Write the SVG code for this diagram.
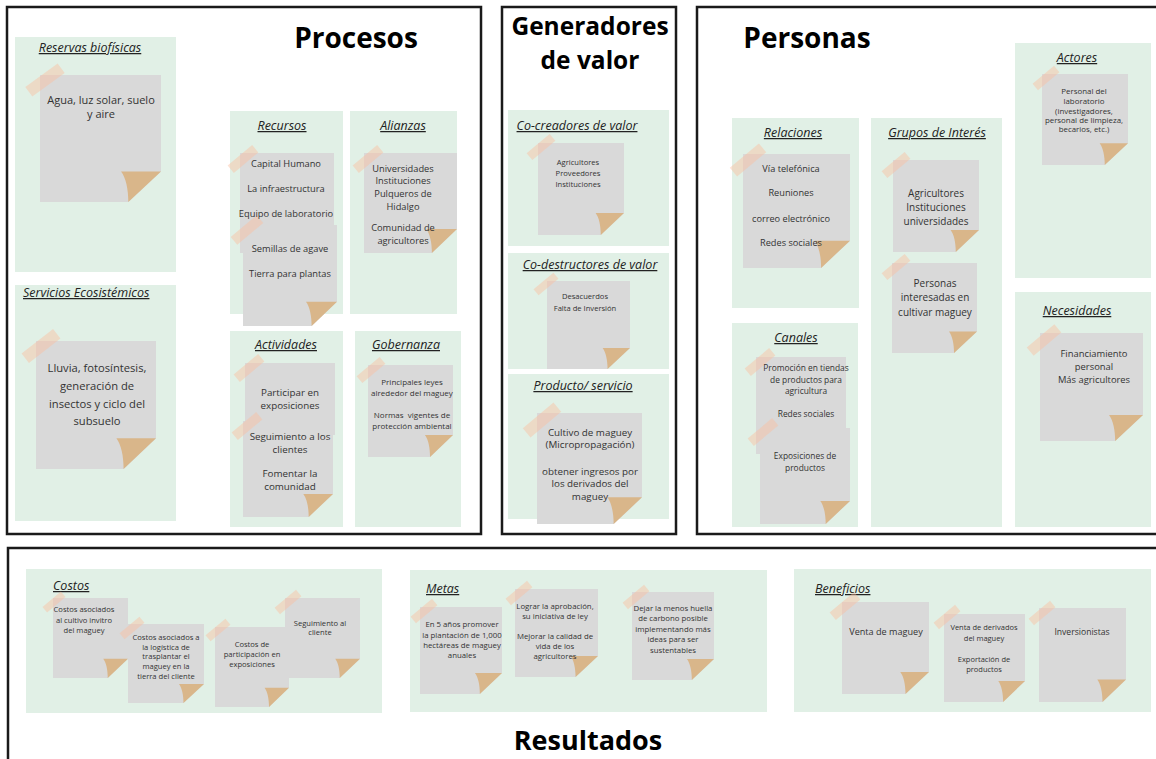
<svg xmlns="http://www.w3.org/2000/svg" xmlns:xlink="http://www.w3.org/1999/xlink" width="1156" height="759" viewBox="0 0 1156 759">
<style>
.frame{fill:none;stroke:#1a1a1a;stroke-width:2.5}
.panel{fill:#e1f0e6}
.title{font-family:"Open Sans","Liberation Sans",sans-serif;font-weight:700;fill:#000;text-anchor:middle}
.h{font-family:"Open Sans","Liberation Sans",sans-serif;font-style:italic;font-size:12.5px;text-decoration:underline;fill:#222}
.c{text-anchor:middle}
.n{font-family:"Open Sans","Liberation Sans",sans-serif;fill:#333;text-anchor:middle}
.tape{fill:#fbbf9f;opacity:.45}
.plain{fill:#d9d9d9}
</style>
<defs>
<symbol id="note" viewBox="0 0 100 100" preserveAspectRatio="none">
<path fill="#d9d9d9" d="M0 0H100V76L73 100H0Z"/>
<path fill="#d9b68a" d="M67 76H100L73 100C73 90 71 81 67 76Z"/>
</symbol>
<rect id="tape" class="tape" x="-20" y="-6" width="40" height="12"/>
</defs>
<rect width="1156" height="759" fill="#fff"/>

<g id="frames">
<rect class="frame" x="7" y="7" width="474" height="527"/>
<rect class="frame" x="502" y="7" width="174" height="527"/>
<rect class="frame" x="697" y="7" width="470" height="527"/>
<rect class="frame" x="8" y="548" width="1160" height="220"/>
<text class="title" x="356" y="48" font-size="28">Procesos</text>
<text class="title" x="590" y="35" font-size="24.5">Generadores</text>
<text class="title" x="590" y="69" font-size="24.5">de valor</text>
<text class="title" x="807" y="48" font-size="28">Personas</text>
<text class="title" x="588" y="750" font-size="27">Resultados</text>
</g>

<g id="reservas">
<rect class="panel" x="15" y="37" width="161" height="235"/>
<text class="h c" x="90" y="52">Reservas biofísicas</text>
<use href="#note" x="40" y="75" width="121" height="127"/>
<use href="#tape" transform="translate(45,80) rotate(-36)"/>
<text class="n" font-size="11"><tspan x="101" y="104">Agua, luz solar, suelo</tspan><tspan x="101" y="118">y aire</tspan></text>
</g>

<g id="servicios">
<rect class="panel" x="15" y="285" width="161" height="236"/>
<text class="h" x="23" y="297">Servicios Ecosistémicos </text>
<use href="#note" x="36" y="341" width="120" height="128"/>
<use href="#tape" transform="translate(41,346) rotate(-38)"/>
<text class="n" font-size="11.2"><tspan x="97" y="372">Lluvia, fotosíntesis,</tspan><tspan x="97" y="390">generación de</tspan><tspan x="97" y="408">insectos y ciclo del</tspan><tspan x="97" y="425">subsuelo</tspan></text>
</g>

<g id="recursos">
<rect class="panel" x="230" y="111" width="113" height="203"/>
<text class="h c" x="282" y="130">Recursos</text>
<rect class="plain" x="240" y="153" width="94" height="100"/>
<use href="#tape" transform="translate(243,159) rotate(-40) scale(0.8)"/>
<use href="#note" x="243" y="225" width="94" height="101"/>
<use href="#tape" transform="translate(247,230) rotate(-40) scale(0.85)"/>
<text class="n" font-size="9.3"><tspan x="286" y="167">Capital Humano</tspan><tspan x="286" y="192">La infraestructura</tspan><tspan x="286" y="217">Equipo de laboratorio</tspan><tspan x="290" y="252">Semillas de agave</tspan><tspan x="290" y="277">Tierra para plantas</tspan></text>
</g>

<g id="alianzas">
<rect class="panel" x="350" y="111" width="107" height="203"/>
<text class="h c" x="403" y="130">Alianzas</text>
<use href="#note" x="364" y="153" width="93" height="100"/>
<use href="#tape" transform="translate(368,159) rotate(-40) scale(0.8)"/>
<text class="n" font-size="9.3"><tspan x="403" y="172">Universidades</tspan><tspan x="403" y="184">Instituciones</tspan><tspan x="403" y="197">Pulqueros de</tspan><tspan x="403" y="210">Hidalgo</tspan><tspan x="403" y="231">Comunidad de</tspan><tspan x="403" y="244">agricultores</tspan></text>
</g>

<g id="actividades">
<rect class="panel" x="230" y="331" width="113" height="196"/>
<text class="h c" x="286" y="349">Actividades </text>
<rect class="plain" x="245" y="363" width="90" height="72"/>
<use href="#tape" transform="translate(249,368) rotate(-40) scale(0.8)"/>
<use href="#note" x="243" y="421" width="90" height="96"/>
<use href="#tape" transform="translate(247,426) rotate(-40) scale(0.8)"/>
<text class="n" font-size="9.8"><tspan x="290" y="396">Participar en</tspan><tspan x="290" y="409">exposiciones</tspan><tspan x="290" y="440">Seguimiento a los</tspan><tspan x="290" y="453">clientes</tspan><tspan x="290" y="477">Fomentar la</tspan><tspan x="290" y="490">comunidad</tspan></text>
</g>

<g id="gobernanza">
<rect class="panel" x="355" y="331" width="106" height="196"/>
<text class="h c" x="406" y="349">Gobernanza</text>
<use href="#note" x="368" y="365" width="85" height="92"/>
<use href="#tape" transform="translate(371,370) rotate(-40) scale(0.75)"/>
<text class="n" font-size="8"><tspan x="412" y="385">Principales leyes</tspan><tspan x="412" y="396">alrededor del maguey</tspan><tspan x="412" y="418">Normas&#160; vigentes de</tspan><tspan x="412" y="429">protección ambiental</tspan></text>
</g>

<g id="cocreadores">
<rect class="panel" x="508" y="110" width="161" height="136"/>
<text class="h c" x="577" y="130">Co-creadores de valor</text>
<use href="#note" x="538" y="143" width="86" height="92"/>
<use href="#tape" transform="translate(541,147) rotate(-40) scale(0.75)"/>
<text class="n" font-size="7.6"><tspan x="578" y="165">Agricultores</tspan><tspan x="578" y="176">Proveedores</tspan><tspan x="578" y="187">Instituciones</tspan></text>
</g>

<g id="codestructores">
<rect class="panel" x="508" y="253" width="161" height="116"/>
<text class="h c" x="590" y="269">Co-destructores de valor</text>
<use href="#note" x="547" y="281" width="83" height="88"/>
<use href="#tape" transform="translate(546,284) rotate(-40) scale(0.65)"/>
<text class="n" font-size="7.6"><tspan x="585" y="299">Desacuerdos</tspan><tspan x="585" y="311">Falta de Inversión</tspan></text>
</g>

<g id="producto">
<rect class="panel" x="508" y="374" width="161" height="145"/>
<text class="h c" x="583" y="390">Producto/ servicio</text>
<use href="#note" x="537" y="413" width="105" height="111"/>
<use href="#tape" transform="translate(542,420) rotate(-40)"/>
<text class="n" font-size="9.8"><tspan x="590" y="436">Cultivo de maguey</tspan><tspan x="590" y="448">(Micropropagación)</tspan><tspan x="590" y="475">obtener ingresos por</tspan><tspan x="590" y="487">los derivados del</tspan><tspan x="590" y="500">maguey</tspan></text>
</g>

<g id="relaciones">
<rect class="panel" x="732" y="118" width="127" height="190"/>
<text class="h c" x="793" y="137">Relaciones </text>
<use href="#note" x="743" y="154" width="107" height="114"/>
<use href="#tape" transform="translate(748,160) rotate(-40) scale(0.95)"/>
<text class="n" font-size="9.2"><tspan x="791" y="172">Vía telefónica</tspan><tspan x="791" y="196">Reuniones</tspan><tspan x="791" y="222">correo electrónico</tspan><tspan x="791" y="246">Redes sociales</tspan></text>
</g>

<g id="grupos">
<rect class="panel" x="871" y="118" width="131" height="409"/>
<text class="h c" x="937" y="137">Grupos de Interés</text>
<use href="#note" x="893" y="160" width="86" height="92"/>
<use href="#tape" transform="translate(896,165) rotate(-40) scale(0.75)"/>
<text class="n" font-size="10"><tspan x="936" y="197">Agricultores</tspan><tspan x="936" y="211">Instituciones</tspan><tspan x="936" y="225">universidades</tspan></text>
<use href="#note" x="892" y="263" width="85" height="90"/>
<use href="#tape" transform="translate(896,267) rotate(-40) scale(0.75)"/>
<text class="n" font-size="10"><tspan x="935" y="287">Personas</tspan><tspan x="935" y="301">interesadas en</tspan><tspan x="935" y="316">cultivar maguey</tspan></text>
</g>

<g id="canales">
<rect class="panel" x="732" y="323" width="126" height="204"/>
<text class="h c" x="796" y="342">Canales </text>
<rect class="plain" x="756" y="357" width="90" height="97"/>
<use href="#tape" transform="translate(760,362) rotate(-40) scale(0.8)"/>
<use href="#note" x="760" y="428" width="90" height="96"/>
<use href="#tape" transform="translate(763,432) rotate(-40) scale(0.8)"/>
<text class="n" font-size="8.4"><tspan x="806" y="371">Promoción en tiendas</tspan><tspan x="806" y="383">de productos para</tspan><tspan x="806" y="394">agricultura</tspan><tspan x="806" y="417">Redes sociales</tspan><tspan x="805" y="459">Exposiciones de</tspan><tspan x="805" y="471">productos</tspan></text>
</g>

<g id="actores">
<rect class="panel" x="1015" y="43" width="136" height="235"/>
<text class="h c" x="1077" y="62">Actores</text>
<use href="#note" x="1042" y="74" width="86" height="91"/>
<use href="#tape" transform="translate(1046,78) rotate(-40) scale(0.7)"/>
<text class="n" font-size="7.9"><tspan x="1084" y="94">Personal del</tspan><tspan x="1084" y="104">laboratorio</tspan><tspan x="1084" y="114">(investigadores,</tspan><tspan x="1084" y="123">personal de limpieza,</tspan><tspan x="1084" y="132">becarios, etc.)</tspan></text>
</g>

<g id="necesidades">
<rect class="panel" x="1015" y="292" width="136" height="235"/>
<text class="h c" x="1077" y="315">Necesidades</text>
<use href="#note" x="1040" y="333" width="103" height="108"/>
<use href="#tape" transform="translate(1044,340) rotate(-40) scale(0.9)"/>
<text class="n" font-size="9.4"><tspan x="1094" y="357">Financiamiento</tspan><tspan x="1094" y="370">personal</tspan><tspan x="1094" y="383">Más agricultores</tspan></text>
</g>

<g id="costos">
<rect class="panel" x="26" y="569" width="356" height="144"/>
<text class="h" x="53" y="590">Costos</text>
<use href="#note" x="53" y="598" width="75" height="80"/>
<use href="#tape" transform="translate(54,602) rotate(-40) scale(0.6)"/>
<text class="n" font-size="7.6"><tspan x="84" y="612">Costos asociados</tspan><tspan x="84" y="623">al cultivo invitro</tspan><tspan x="84" y="633">del maguey</tspan></text>
<use href="#note" x="128" y="624" width="76" height="79"/>
<use href="#tape" transform="translate(132,628) rotate(-40) scale(0.65)"/>
<text class="n" font-size="7.6"><tspan x="166" y="640">Costos asociados a</tspan><tspan x="166" y="650">la logística de</tspan><tspan x="166" y="659">trasplantar el</tspan><tspan x="166" y="669">maguey en la</tspan><tspan x="166" y="679">tierra del cliente</tspan></text>
<use href="#note" x="215" y="627" width="74" height="80"/>
<use href="#tape" transform="translate(218,630) rotate(-40) scale(0.65)"/>
<text class="n" font-size="7.6"><tspan x="252" y="647">Costos de</tspan><tspan x="252" y="657">participación en</tspan><tspan x="252" y="667">exposiciones</tspan></text>
<use href="#note" x="285" y="598" width="75" height="80"/>
<use href="#tape" transform="translate(288,602) rotate(-40) scale(0.7)"/>
<text class="n" font-size="7.6"><tspan x="320" y="626">Seguimiento al</tspan><tspan x="320" y="635">cliente</tspan></text>
</g>

<g id="metas">
<rect class="panel" x="410" y="570" width="357" height="142"/>
<text class="h" x="426" y="593">Metas</text>
<use href="#note" x="420" y="607" width="82" height="87"/>
<use href="#tape" transform="translate(424,611) rotate(-40) scale(0.7)"/>
<text class="n" font-size="7.8"><tspan x="462" y="627">En 5 años promover</tspan><tspan x="462" y="638">la plantación de 1,000</tspan><tspan x="462" y="648">hectáreas de maguey</tspan><tspan x="462" y="658">anuales</tspan></text>
<use href="#note" x="515" y="589" width="83" height="88"/>
<use href="#tape" transform="translate(519,593) rotate(-40) scale(0.7)"/>
<text class="n" font-size="7.8"><tspan x="555" y="609">Lograr la aprobación,</tspan><tspan x="555" y="619">su iniciativa de ley</tspan><tspan x="555" y="639">Mejorar la calidad de</tspan><tspan x="555" y="649">vida de los</tspan><tspan x="555" y="659">agricultores</tspan></text>
<use href="#note" x="632" y="592" width="82" height="88"/>
<use href="#tape" transform="translate(636,597) rotate(-40) scale(0.7)"/>
<text class="n" font-size="7.8"><tspan x="673" y="611">Dejar la menos huella</tspan><tspan x="673" y="621">de carbono posible</tspan><tspan x="673" y="632">implementando más</tspan><tspan x="673" y="642">ideas para ser</tspan><tspan x="673" y="653">sustentables</tspan></text>
</g>

<g id="beneficios">
<rect class="panel" x="794" y="569" width="357" height="143"/>
<text class="h" x="815" y="593">Beneficios</text>
<use href="#note" x="842" y="602" width="87" height="92"/>
<use href="#tape" transform="translate(845,606) rotate(-40) scale(0.8)"/>
<text class="n" font-size="9.1"><tspan x="886" y="635">Venta de maguey</tspan></text>
<use href="#note" x="944" y="614" width="81" height="88"/>
<use href="#tape" transform="translate(947,617) rotate(-40) scale(0.7)"/>
<text class="n" font-size="7.5"><tspan x="984" y="630">Venta de derivados</tspan><tspan x="984" y="641">del maguey</tspan><tspan x="984" y="662">Exportación de</tspan><tspan x="984" y="672">productos</tspan></text>
<use href="#note" x="1039" y="608" width="87" height="94"/>
<use href="#tape" transform="translate(1042,613) rotate(-40) scale(0.7)"/>
<text class="n" font-size="8.6"><tspan x="1082" y="635">Inversionistas</tspan></text>
</g>

<g id="connectors"/>
</svg>
